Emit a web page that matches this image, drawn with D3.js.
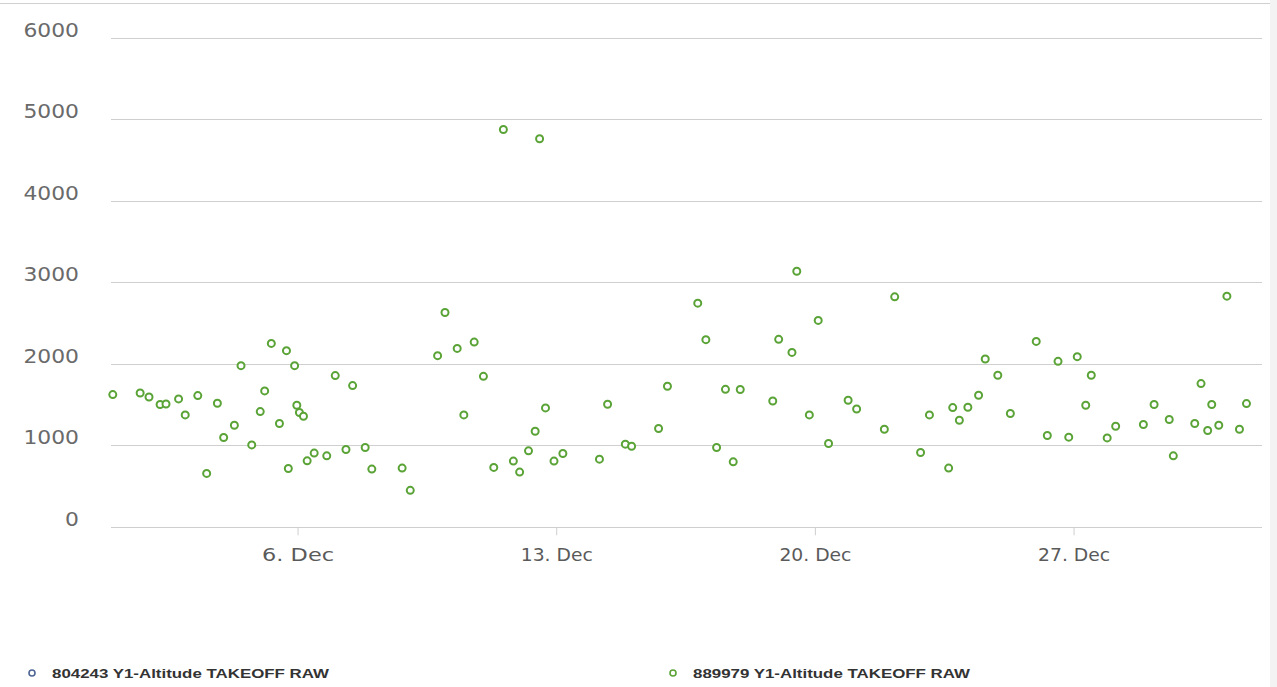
<!DOCTYPE html>
<html>
<head>
<meta charset="utf-8">
<script src="https://cdn.jsdelivr.net/npm/d3@7"></script>
<style>
  html, body { margin: 0; padding: 0; background: #ffffff; }
  svg { display: block; }
</style>
</head>
<body>
<svg id="chart" width="1277" height="687"></svg>
<script>
// ---- data ----
const seriesNames = ["804243 Y1-Altitude TAKEOFF RAW", "889979 Y1-Altitude TAKEOFF RAW"];
const seriesColors = ["#4f6694", "#5aa336"];
// series 1 has no visible points
const series1Days = [];
const series1Values = [];
// series 2: day of December (fractional) and altitude
const series2Days = [1.00,1.74,1.98,2.28,2.44,2.78,2.96,3.30,3.54,3.83,4.00,4.29,4.47,4.76,4.99,5.11,5.29,5.51,5.70,5.75,5.92,5.98,6.05,6.16,6.26,6.45,6.79,7.02,7.31,7.49,7.83,8.01,8.83,9.05,9.79,9.99,10.32,10.50,10.78,11.03,11.31,11.57,11.84,12.01,12.25,12.43,12.55,12.71,12.94,13.18,14.17,14.39,14.87,15.04,15.77,16.01,16.83,17.05,17.34,17.58,17.79,17.98,18.86,19.02,19.38,19.51,19.85,20.09,20.37,20.90,21.13,21.88,22.16,22.86,23.10,23.62,23.73,23.91,24.14,24.43,24.61,24.95,25.29,25.99,26.29,26.58,26.87,27.10,27.33,27.48,27.91,28.14,28.89,29.18,29.59,29.70,30.28,30.45,30.63,30.74,30.93,31.15,31.49,31.68];
const series2Values = [1622,1642,1593,1500,1507,1569,1373,1610,655,1516,1096,1246,1977,1005,1414,1667,2250,1267,2161,716,1977,1491,1402,1357,809,904,871,1855,949,1733,973,708,720,447,2100,2630,2189,1373,2266,1846,729,4875,806,671,932,1173,4761,1459,806,900,830,1504,1014,989,1206,1724,2744,2296,973,1687,797,1684,1544,2300,2140,3136,1373,2532,1022,1553,1446,1197,2822,912,1373,720,1463,1308,1467,1614,2059,1859,1390,2275,1120,2030,1100,2088,1491,1859,1091,1234,1255,1500,1316,871,1267,1757,1182,1500,1246,2830,1197,1512];
const yTicks = [0, 1000, 2000, 3000, 4000, 5000, 6000];
const xTickDays = [6, 13, 20, 27];

// ---- helpers ----
const DAY = 86400000;
const base = new Date(2015, 11, 1).getTime();
const toDate = d => new Date(base + (d - 1) * DAY);

const svg = d3.select("#chart");

// background strip at right edge and top border
svg.append("rect").attr("x", 1270).attr("y", 0).attr("width", 7).attr("height", 687).attr("fill", "#f3f3f3");
svg.append("line").attr("x1", 0).attr("x2", 1270).attr("y1", 3.5).attr("y2", 3.5).attr("stroke", "#d0d0d0").attr("stroke-width", 1);

const x = d3.scaleTime()
  .domain([toDate(1), toDate(32.1)])
  .range([112.8, 1262]);
const y = d3.scaleLinear()
  .domain([0, 6000])
  .range([526.8, 37.8]);

// gridlines
const grid = svg.append("g");
grid.selectAll("line").data(yTicks).join("line")
  .attr("x1", 111).attr("x2", 1262)
  .attr("y1", d => Math.round(y(d)) + 0.5).attr("y2", d => Math.round(y(d)) + 0.5)
  .attr("stroke", "#cfcfcf").attr("stroke-width", 1);

// y labels
const yAxis = d3.axisLeft(y).tickValues(yTicks).tickSize(0).tickPadding(0).tickFormat(d3.format("d"));
const yg = svg.append("g").attr("transform", "translate(79,0)").call(yAxis);
yg.select(".domain").remove();
yg.selectAll("text")
  .attr("dy", "-1.8px")
  .attr("x", 0)
  .attr("font-family", "DejaVu Sans")
  .attr("font-size", "19px")
  .attr("fill", "#6a6a6a")
  .attr("text-anchor", "end")
  .each(function(d){
    const s = String(d);
    d3.select(this).attr("textLength", s.length * 13.9).attr("lengthAdjust", "spacingAndGlyphs");
  });

// x axis
const xAxis = d3.axisBottom(x)
  .tickValues(xTickDays.map(toDate))
  .tickSize(8)
  .tickPadding(0)
  .tickFormat(d3.timeFormat("%-d. %b"));
const xg = svg.append("g").attr("transform", "translate(0,527.3)").call(xAxis);
xg.select(".domain").remove();
xg.selectAll(".tick line").attr("stroke", "#cfcfcf");
xg.selectAll("text")
  .attr("y", 33.5)
  .attr("dy", 0)
  .attr("font-family", "DejaVu Sans")
  .attr("font-size", "18px")
  .attr("fill", "#5a5a5a")
  .attr("textLength", 72)
  .attr("lengthAdjust", "spacingAndGlyphs");

// points
const pts1 = series1Days.map((d, i) => ({ d: toDate(d), v: series1Values[i] }));
const pts2 = series2Days.map((d, i) => ({ d: toDate(d), v: series2Values[i] }));
svg.append("g").selectAll("circle").data(pts1).join("circle")
  .attr("cx", p => x(p.d)).attr("cy", p => y(p.v)).attr("r", 3.5)
  .attr("fill", "#fff").attr("stroke", seriesColors[0]).attr("stroke-width", 2);
svg.append("g").selectAll("circle").data(pts2).join("circle")
  .attr("cx", p => x(p.d)).attr("cy", p => y(p.v)).attr("r", 3.5)
  .attr("fill", "#fff").attr("stroke", seriesColors[1]).attr("stroke-width", 2);

// legend
const legendX = [32, 673];
const lg = svg.append("g");
seriesNames.forEach((name, i) => {
  lg.append("circle").attr("cx", legendX[i]).attr("cy", 673).attr("r", 3)
    .attr("fill", "#fff").attr("stroke", seriesColors[i]).attr("stroke-width", 1.6);
  lg.append("text").attr("x", legendX[i] + 20).attr("y", 677.5)
    .attr("font-family", "Liberation Sans").attr("font-weight", "bold")
    .attr("font-size", "13px").attr("fill", "#333")
    .attr("textLength", 277).attr("lengthAdjust", "spacingAndGlyphs")
    .text(name);
});
</script>
</body>
</html>
